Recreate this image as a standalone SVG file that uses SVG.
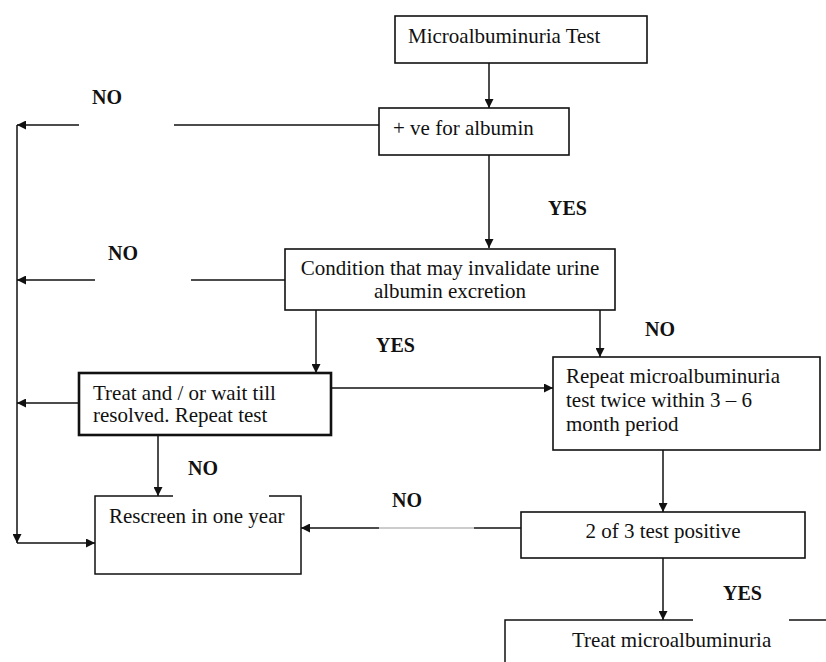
<svg xmlns="http://www.w3.org/2000/svg" width="826" height="662" viewBox="0 0 826 662">
<style>
.box{fill:#fff;stroke:#111;stroke-width:1.6}
.thick{stroke-width:2.6}
.t{font-family:'Liberation Serif',Tinos,'Times New Roman','DejaVu Serif',serif;font-size:21px;fill:#111}
.lbl{font-family:'Liberation Serif',Tinos,'Times New Roman','DejaVu Serif',serif;font-size:20px;font-weight:bold;fill:#111}
.c{fill:none;stroke:#111;stroke-width:1.5}
.g{fill:none;stroke:#999;stroke-width:1.2}
</style>
<defs>
<marker id="ah" viewBox="0 0 10 10" refX="10" refY="5" markerWidth="10" markerHeight="9" markerUnits="userSpaceOnUse" orient="auto">
<path d="M0,0 L10,5 L0,10 z" fill="#111"/>
</marker>
</defs>
<rect width="826" height="662" fill="#fff"/>
<g id="connectors">
<path class="c" d="M489,63 V108" marker-end="url(#ah)"/>
<path class="c" d="M379,125 H174"/>
<path class="c" d="M79,125 H17" marker-end="url(#ah)"/>
<path class="c" d="M17,125 V543" marker-end="url(#ah)"/>
<path class="c" d="M17,543 H95" marker-end="url(#ah)"/>
<path class="c" d="M489,155 V248" marker-end="url(#ah)"/>
<path class="c" d="M285,280 H191"/>
<path class="c" d="M95,280 H17" marker-end="url(#ah)"/>
<path class="c" d="M316,310 V373" marker-end="url(#ah)"/>
<path class="c" d="M600,310 V357" marker-end="url(#ah)"/>
<path class="c" d="M79,403 H17" marker-end="url(#ah)"/>
<path class="c" d="M331,388 H553" marker-end="url(#ah)"/>
<path class="c" d="M158,435 V496" marker-end="url(#ah)"/>
<path class="c" d="M663,450 V512" marker-end="url(#ah)"/>
<path class="c" d="M521,528 H474"/>
<path class="g" d="M474,528 H379"/>
<path class="c" d="M379,528 H301" marker-end="url(#ah)"/>
<path class="c" d="M663,558 V620" marker-end="url(#ah)"/>
</g>
<g id="labels">
<text class="lbl" x="92" y="104" font-family="Liberation Serif, serif">NO</text>
<text class="lbl" x="548" y="215" font-family="Liberation Serif, serif">YES</text>
<text class="lbl" x="108" y="260" font-family="Liberation Serif, serif">NO</text>
<text class="lbl" x="376" y="352" font-family="Liberation Serif, serif">YES</text>
<text class="lbl" x="645" y="336" font-family="Liberation Serif, serif">NO</text>
<text class="lbl" x="188" y="475" font-family="Liberation Serif, serif">NO</text>
<text class="lbl" x="392" y="507" font-family="Liberation Serif, serif">NO</text>
<text class="lbl" x="723" y="600" font-family="Liberation Serif, serif">YES</text>
</g>
<g id="n-test">
<rect class="box" x="395" y="16" width="252" height="47"/>
<text class="t" x="408" y="43">Microalbuminuria Test</text>
</g>
<g id="n-positive">
<rect class="box" x="379" y="108" width="190" height="47"/>
<text class="t" x="393" y="135">+ ve for albumin</text>
</g>
<g id="n-condition">
<rect class="box" x="285" y="249" width="330" height="61"/>
<text class="t" x="450" y="275" text-anchor="middle">Condition that may invalidate urine</text>
<text class="t" x="450" y="298" text-anchor="middle">albumin excretion</text>
</g>
<g id="n-treat">
<rect class="box thick" x="79" y="373" width="252" height="62"/>
<text class="t" x="93" y="400">Treat and / or wait till</text>
<text class="t" x="93" y="422">resolved. Repeat test</text>
</g>
<g id="n-repeat">
<rect class="box" x="553" y="357" width="267" height="93"/>
<text class="t" x="566" y="383">Repeat microalbuminuria</text>
<text class="t" x="566" y="407">test twice within 3 – 6</text>
<text class="t" x="566" y="431">month period</text>
</g>
<g id="n-rescreen">
<path class="c" d="M173,496 H95 V574 H301 V496 H269"/>
<text class="t" x="109" y="523">Rescreen in one year</text>
</g>
<g id="n-twoofthree">
<rect class="box" x="521" y="512" width="284" height="46"/>
<text class="t" x="663" y="538" text-anchor="middle">2 of 3 test positive</text>
</g>
<g id="n-treatmicro">
<path class="c" d="M693,620 H505 V662"/>
<path class="c" d="M789,620 H826"/>
<text class="t" x="572" y="647">Treat microalbuminuria</text>
</g>
</svg>
